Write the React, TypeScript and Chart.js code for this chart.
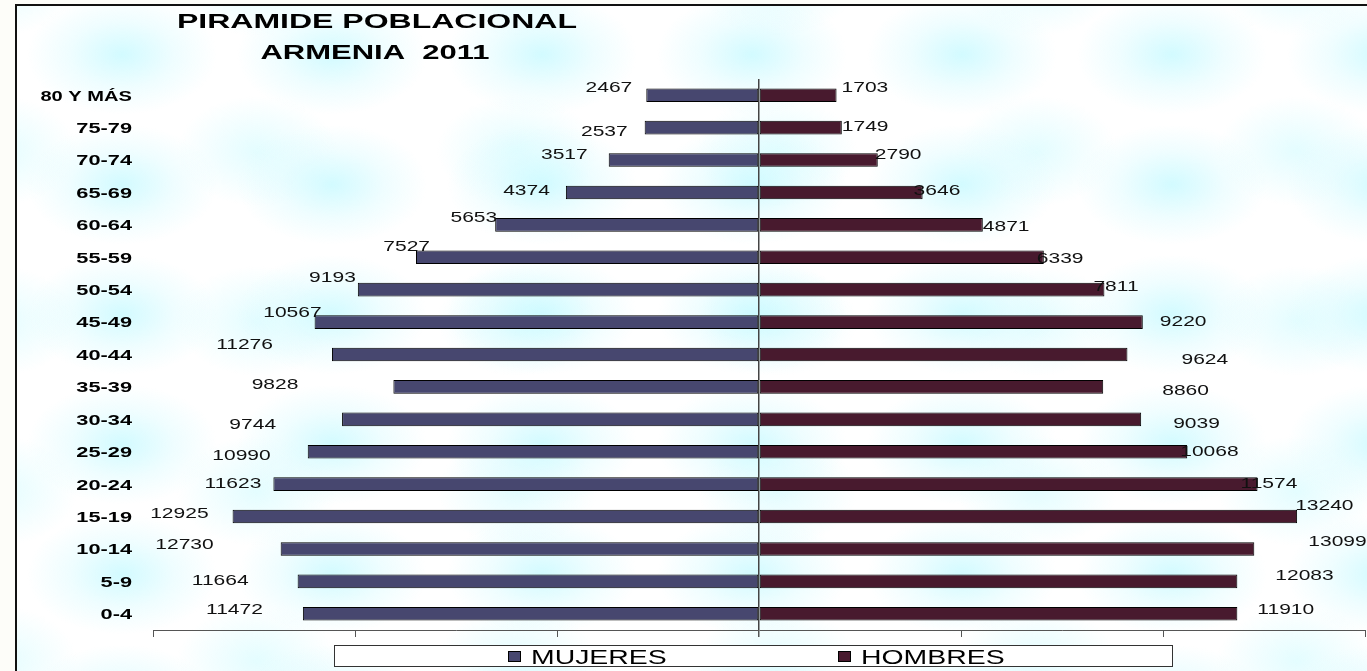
import React, { useEffect, useRef } from "react";
import { Chart, registerables } from "chart.js";

Chart.register(...registerables);

// ---------- DATA ----------
const tituloLineas = ["PIRAMIDE POBLACIONAL", "ARMENIA  2011"];

const categorias = [
  "80 Y MÁS", "75-79", "70-74", "65-69", "60-64", "55-59", "50-54", "45-49",
  "40-44", "35-39", "30-34", "25-29", "20-24", "15-19", "10-14", "5-9", "0-4",
];

const serieNombres = ["MUJERES", "HOMBRES"];

// bar lengths (axis: -15000 .. 15000, tick every 5000)
const mujeresBarras = [
  2790, 2830, 3720, 4780, 6530, 8490, 9930, 11000, 10570, 9050, 10320, 11170,
  12020, 13030, 11840, 11420, 11290,
];
const hombresBarras = [
  1920, 2050, 2940, 4050, 5540, 7050, 8550, 9500, 9120, 8520, 9460, 10600,
  12340, 13320, 12260, 11840, 11840,
];

// data labels printed next to the bars
const mujeresEtiquetas = [
  2467, 2537, 3517, 4374, 5653, 7527, 9193, 10567, 11276, 9828, 9744, 10990,
  11623, 12925, 12730, 11664, 11472,
];
const hombresEtiquetas = [
  1703, 1749, 2790, 3646, 4871, 6339, 7811, 9220, 9624, 8860, 9039, 10068,
  11574, 13240, 13099, 12083, 11910,
];

const ejeMin = -15000;
const ejeMax = 15000;
const ejePaso = 5000;

// ---------- STYLE ----------
const COLOR_MUJERES = "#47476F";
const COLOR_HOMBRES = "#481A2E";
const FONT = '"Liberation Sans", Arial, sans-serif';

// manual nudges of the data labels (px), as placed in the original
const nudgeMujeres: [number, number][] = [
  [-14, -9], [-17, 3], [-21, -6], [-16, -3], [2, -8], [14, -12], [-2, -13],
  [7, -10], [-59, -11], [-95, -3], [-66, 4], [-37, 3], [-12, -2], [-24, -4],
  [-67, -5], [-49, -2], [-40, -5],
];
const nudgeHombres: [number, number][] = [
  [5, -9], [0, -2], [-3, -6], [-9, -3], [0, 1], [-7, 0], [-11, -4], [17, -1],
  [54, 4], [59, 3], [32, 3], [-7, -1], [-17, -2], [-2, -12], [54, -8],
  [38, -7], [20, -5],
];

function drawText(
  ctx: CanvasRenderingContext2D,
  text: string,
  x: number,
  yCenter: number,
  size: number,
  bold: boolean,
  align: CanvasTextAlign,
  sx: number,
  color: string
) {
  ctx.save();
  ctx.font = `${bold ? "bold " : ""}${size}px ${FONT}`;
  ctx.fillStyle = color;
  ctx.textAlign = align;
  ctx.textBaseline = "alphabetic";
  ctx.translate(x, yCenter + size * 0.358);
  ctx.scale(sx, 1);
  ctx.fillText(text, 0, 0);
  ctx.restore();
}

const decoraciones = {
  id: "decoraciones",
  afterDatasetsDraw(chart: any) {
    const ctx = chart.ctx as CanvasRenderingContext2D;
    const m0 = chart.getDatasetMeta(0);
    const m1 = chart.getDatasetMeta(1);
    m0.data.forEach((el: any, i: number) => {
      const [dx, dy] = nudgeMujeres[i];
      drawText(ctx, String(mujeresEtiquetas[i]), el.x + dx, el.y + dy, 15, false, "right", 1.4, "#111");
    });
    m1.data.forEach((el: any, i: number) => {
      const [dx, dy] = nudgeHombres[i];
      drawText(ctx, String(hombresEtiquetas[i]), el.x + dx, el.y + dy, 15, false, "left", 1.4, "#111");
    });
  },
  afterDraw(chart: any) {
    const ctx = chart.ctx as CanvasRenderingContext2D;
    const ys = chart.scales.y;
    categorias.forEach((c, i) => {
      drawText(ctx, c, 132, ys.getPixelForValue(i), 15, true, "right", i === 0 ? 1.34 : 1.45, "#000");
    });
    drawText(ctx, tituloLineas[0], 377, 21, 20, true, "center", 1.6, "#000");
    drawText(ctx, tituloLineas[1], 375, 52, 20, true, "center", 1.55, "#000");

    // legend box
    ctx.save();
    ctx.fillStyle = "#ffffff";
    ctx.fillRect(334.5, 645.5, 838, 21);
    ctx.strokeStyle = "#333";
    ctx.lineWidth = 1;
    ctx.strokeRect(334.5, 645.5, 838, 21);
    const items = [
      { name: serieNombres[0], color: COLOR_MUJERES, x: 531 },
      { name: serieNombres[1], color: COLOR_HOMBRES, x: 861 },
    ];
    items.forEach((it) => {
      ctx.fillStyle = it.color;
      ctx.fillRect(it.x - 22.5, 651.5, 12, 10);
      ctx.strokeStyle = "#000";
      ctx.strokeRect(it.x - 22.5, 651.5, 12, 10);
      drawText(ctx, it.name, it.x, 657, 20, false, "left", 1.42, "#000");
    });
    ctx.restore();
  },
};

export default function App() {
  const ref = useRef<HTMLCanvasElement | null>(null);

  useEffect(() => {
    if (!ref.current) return;
    const chart = new Chart(ref.current, {
      type: "bar",
      data: {
        labels: categorias,
        datasets: [
          {
            label: serieNombres[0],
            data: mujeresBarras.map((v) => -v),
            backgroundColor: COLOR_MUJERES,
            borderColor: "#000",
            borderWidth: 1,
            borderSkipped: false,
            barPercentage: 0.42,
            categoryPercentage: 1,
          },
          {
            label: serieNombres[1],
            data: hombresBarras,
            backgroundColor: COLOR_HOMBRES,
            borderColor: "#000",
            borderWidth: 1,
            borderSkipped: false,
            barPercentage: 0.42,
            categoryPercentage: 1,
          },
        ],
      },
      options: {
        indexAxis: "y",
        responsive: false,
        maintainAspectRatio: false,
        animation: false,
        devicePixelRatio: 1,
        layout: { padding: { left: 153, right: 2, top: 79, bottom: 34 } },
        plugins: {
          legend: { display: false },
          tooltip: { enabled: false },
          title: { display: false },
        },
        scales: {
          x: {
            type: "linear",
            min: ejeMin,
            max: ejeMax,
            stacked: true,
            ticks: { display: false, stepSize: ejePaso },
            grid: {
              drawOnChartArea: true,
              drawTicks: true,
              tickLength: 7,
              tickColor: "#555",
              color: (c: any) => (c.tick && c.tick.value === 0 ? "#444" : "rgba(0,0,0,0)"),
              lineWidth: (c: any) => (c.tick && c.tick.value === 0 ? 1.5 : 1),
            },
            border: { display: true, color: "#555", width: 1 },
          },
          y: {
            type: "category",
            stacked: true,
            display: false,
          },
        },
      },
      plugins: [decoraciones],
    });
    return () => chart.destroy();
  }, []);

  const texture =
    "radial-gradient(ellipse 95px 60px at 50% 45%, rgba(195,249,255,0.75), rgba(215,251,255,0.4) 55%, rgba(255,255,255,0) 100%)," +
    "radial-gradient(ellipse 80px 55px at 50% 50%, rgba(205,251,255,0.55), rgba(255,255,255,0) 100%)";

  return (
    <div
      style={{
        position: "absolute",
        left: 0,
        top: 0,
        width: 1367,
        height: 671,
        overflow: "hidden",
        background: "#fdfdf9",
      }}
    >
      <div
        style={{
          position: "absolute",
          left: 15,
          top: 4,
          width: 1420,
          height: 720,
          borderLeft: "2px solid #111",
          borderTop: "2px solid #111",
          backgroundColor: "#ffffff",
          backgroundImage: texture,
          backgroundSize: "210px 130px, 260px 170px",
          backgroundPosition: "0px -10px, 110px 60px",
        }}
      />
      <canvas
        ref={ref}
        width={1367}
        height={671}
        style={{ position: "absolute", left: 0, top: 0, width: 1367, height: 671 }}
      />
    </div>
  );
}
